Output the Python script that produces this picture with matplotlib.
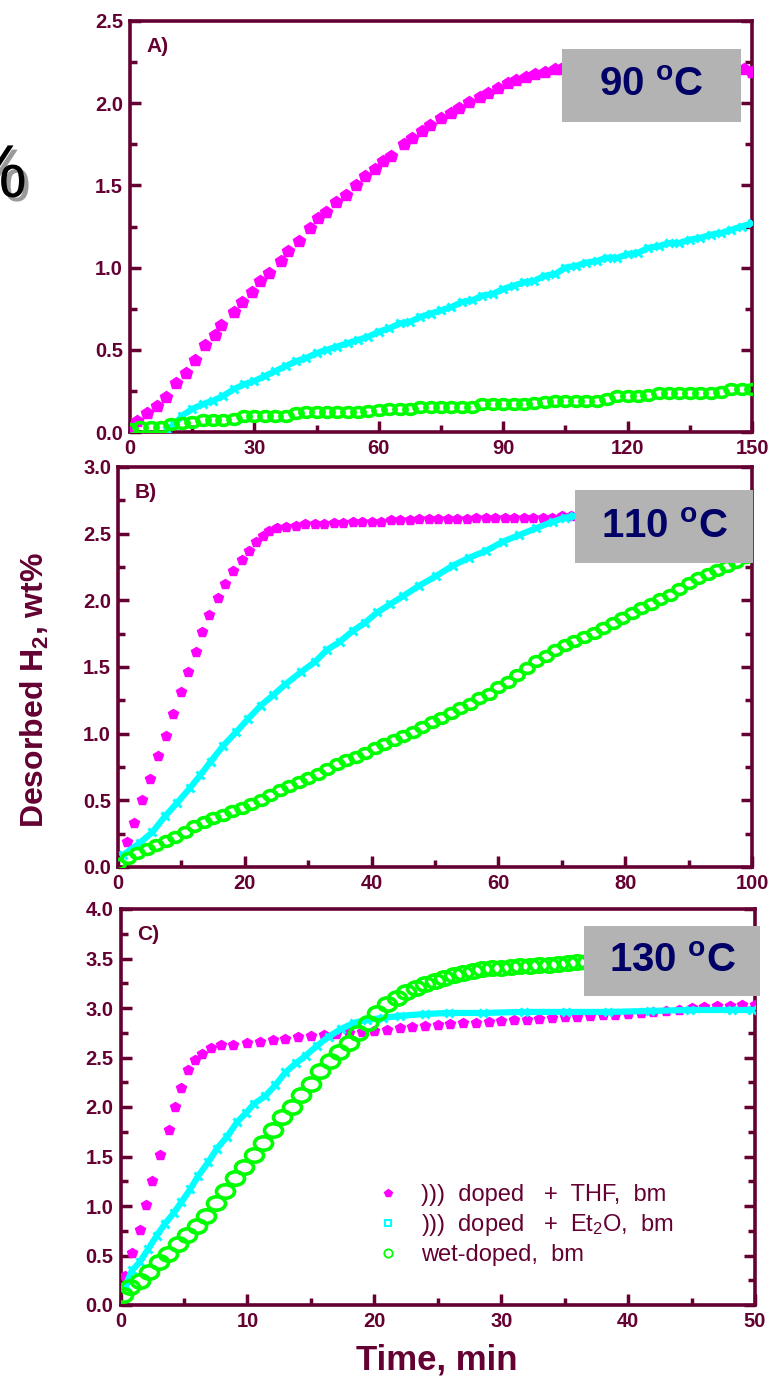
import matplotlib
matplotlib.use("Agg")
import matplotlib.pyplot as plt
import matplotlib.patheffects as pe
from matplotlib.path import Path
from matplotlib.transforms import Affine2D
from matplotlib.patches import Rectangle
from matplotlib.lines import Line2D

# ---- 90 oC ----
a_thf_t = [0.5, 1.8, 4.2, 6.5, 8.7, 11.2, 13.6, 15.6, 18.1, 20.4, 22, 25, 27, 29.4, 31.4, 33.6,
           36.4, 38.1, 40.8, 43.3, 45.3, 47.2, 49.7, 52, 54.6, 56.6, 59.1, 61, 63, 66, 68, 70.4,
           72.4, 74.9, 77.4, 79.3, 81.8, 84.3, 86.3, 88.7, 91.2, 93.2, 95.6, 97.6, 100.1, 102.6,
           104, 108, 112, 116, 120, 124, 128, 132, 136, 140, 144, 148, 150]
a_thf_v = [0.03, 0.066, 0.117, 0.16, 0.21, 0.30, 0.36, 0.44, 0.53, 0.59, 0.65, 0.73, 0.79, 0.85,
           0.92, 0.97, 1.04, 1.10, 1.16, 1.24, 1.30, 1.34, 1.40, 1.44, 1.50, 1.56, 1.60, 1.65,
           1.68, 1.75, 1.79, 1.83, 1.87, 1.91, 1.94, 1.97, 2.01, 2.04, 2.06, 2.09, 2.12, 2.14,
           2.16, 2.18, 2.19, 2.21, 2.21, 2.22, 2.23, 2.23, 2.24, 2.24, 2.24, 2.24, 2.24, 2.24,
           2.24, 2.21, 2.19]
a_et2o_t = [9, 10.5, 12.6, 15, 17.6, 20, 22.5, 25, 27.5, 30, 32.5, 35, 37.5, 40, 42.5, 45, 47.5,
            50, 52.5, 55, 57.5, 60, 62.5, 65, 67.5, 70, 72.5, 75, 77.5, 80, 82.5, 85, 87.5, 90,
            92.5, 95, 97.5, 100, 102.5, 105, 107.5, 110, 112.5, 115, 117.5, 120, 122.5, 125,
            127.5, 130, 132.5, 135, 137.5, 140, 142.5, 145, 147.5, 150]
a_et2o_v = [0.01, 0.04, 0.10, 0.14, 0.17, 0.19, 0.22, 0.26, 0.29, 0.31, 0.34, 0.37, 0.40, 0.43,
            0.45, 0.48, 0.50, 0.52, 0.54, 0.56, 0.58, 0.61, 0.63, 0.66, 0.67, 0.70, 0.72, 0.74,
            0.76, 0.79, 0.80, 0.83, 0.84, 0.87, 0.89, 0.91, 0.92, 0.95, 0.96, 1.00, 1.01, 1.03,
            1.04, 1.06, 1.06, 1.08, 1.09, 1.12, 1.13, 1.15, 1.15, 1.17, 1.18, 1.20, 1.21, 1.23,
            1.25, 1.27]
a_wet_t = [0, 2.5, 5, 7.5, 10, 12.5, 15, 17.5, 20, 22.5, 25, 27.5, 30, 32.5, 35, 37.5, 40, 42.5,
           45, 47.5, 50, 52.5, 55, 57.5, 60, 62.5, 65, 67.5, 70, 72.5, 75, 77.5, 80, 82.5, 85,
           87.5, 90, 92.5, 95, 97.5, 100, 102.5, 105, 107.5, 110, 112.5, 115, 117.5, 120, 122.5,
           125, 127.5, 130, 132.5, 135, 137.5, 140, 142.5, 145, 147.5, 150]
a_wet_v = [0.02, 0.03, 0.03, 0.03, 0.05, 0.055, 0.06, 0.07, 0.075, 0.075, 0.08, 0.095, 0.10,
           0.10, 0.10, 0.10, 0.115, 0.12, 0.12, 0.12, 0.12, 0.12, 0.12, 0.125, 0.135, 0.14, 0.14,
           0.14, 0.15, 0.155, 0.155, 0.155, 0.155, 0.155, 0.17, 0.172, 0.172, 0.172, 0.172,
           0.175, 0.18, 0.19, 0.19, 0.19, 0.19, 0.19, 0.20, 0.22, 0.22, 0.22, 0.225, 0.235,
           0.24, 0.24, 0.24, 0.24, 0.24, 0.245, 0.26, 0.26, 0.26]

# ---- 110 oC ----
b_thf_t = [1.4, 2.6, 3.75, 5.1, 6.25, 7.6, 8.7, 10, 11, 12.3, 13.3, 14.4, 15.8, 16.9, 18.2, 19.5,
           20.7, 21.8, 22.8, 23.8, 25.1, 26.5, 28, 29.5, 31, 32.5, 34, 35.5, 37, 38.5, 40, 41.5,
           43, 44.5, 46, 47.5, 49, 50.5, 52, 53.5, 55, 56.5, 58, 59.5, 61, 62.5, 64, 65.5, 67,
           68.5, 70, 71.5]
b_thf_v = [0.19, 0.33, 0.50, 0.66, 0.83, 0.98, 1.15, 1.31, 1.46, 1.61, 1.76, 1.89, 2.02, 2.12,
           2.22, 2.30, 2.37, 2.44, 2.48, 2.52, 2.54, 2.55, 2.56, 2.57, 2.57, 2.57, 2.58, 2.58,
           2.59, 2.59, 2.59, 2.59, 2.60, 2.60, 2.60, 2.61, 2.61, 2.61, 2.61, 2.61, 2.61, 2.62,
           2.62, 2.62, 2.62, 2.62, 2.62, 2.62, 2.62, 2.62, 2.63, 2.63]
b_et2o_t = [0.8, 3.4, 5.4, 7.4, 9.3, 11.3, 13, 14.6, 16.6, 18.6, 20.5, 22.5, 24.5, 26.4, 28.8,
            31.1, 33, 35, 37, 38.9, 40.9, 42.9, 44.9, 47.5, 50.1, 52.8, 55.4, 58, 60.7, 63.3,
            65.9, 68.6, 70.5, 72]
b_et2o_v = [0.09, 0.18, 0.26, 0.38, 0.48, 0.59, 0.69, 0.79, 0.91, 1.01, 1.11, 1.21, 1.29, 1.37,
            1.46, 1.54, 1.63, 1.69, 1.77, 1.83, 1.91, 1.97, 2.03, 2.11, 2.18, 2.26, 2.32, 2.37,
            2.44, 2.49, 2.54, 2.59, 2.62, 2.63]
b_wet_t = [0, 1.5, 3, 4.5, 6, 7.5, 9, 10.5, 12, 13.5, 15, 16.5, 18, 19.5, 21, 22.5, 24, 25.5, 27,
           28.5, 30, 31.5, 33, 34.5, 36, 37.5, 39, 40.5, 42, 43.5, 45, 46.5, 48, 49.5, 51, 52.5,
           54, 55.5, 57, 58.5, 60, 61.5, 63, 64.5, 66, 67.5, 69, 70.5, 72, 73.5, 75, 76.5, 78,
           79.5, 81, 82.5, 84, 85.5, 87, 88.5, 90, 91.5, 93, 94.5, 96, 97.5, 99]
b_wet_v = [0.02, 0.07, 0.105, 0.135, 0.165, 0.195, 0.225, 0.265, 0.305, 0.335, 0.365, 0.39,
           0.42, 0.445, 0.475, 0.505, 0.54, 0.575, 0.61, 0.64, 0.67, 0.70, 0.735, 0.77, 0.80,
           0.825, 0.855, 0.89, 0.925, 0.955, 0.98, 1.015, 1.05, 1.09, 1.12, 1.155, 1.19, 1.225,
           1.265, 1.30, 1.35, 1.39, 1.44, 1.49, 1.545, 1.585, 1.625, 1.665, 1.695, 1.725, 1.755,
           1.79, 1.83, 1.865, 1.905, 1.945, 1.975, 2.01, 2.04, 2.085, 2.13, 2.165, 2.195, 2.225,
           2.255, 2.29, 2.325]

# ---- 130 oC ----
c_thf_t = [0.33, 0.9, 1.5, 2.0, 2.5, 3.1, 3.8, 4.3, 4.75, 5.3, 5.9, 6.45, 7.1, 7.9, 8.9, 10, 11,
           12, 13, 14, 15, 16, 17, 18, 19, 20, 21, 22, 23, 24, 25, 26, 27, 28, 29, 30, 31, 32,
           33, 34, 35, 36, 37, 38, 39, 40, 41, 42, 43, 44, 45, 46, 47, 48, 49, 50]
c_thf_v = [0.29, 0.525, 0.76, 1.01, 1.25, 1.52, 1.77, 2.0, 2.19, 2.37, 2.47, 2.54, 2.60, 2.63,
           2.63, 2.65, 2.66, 2.68, 2.69, 2.71, 2.72, 2.73, 2.74, 2.75, 2.76, 2.77, 2.78, 2.80,
           2.81, 2.82, 2.83, 2.84, 2.85, 2.85, 2.86, 2.87, 2.88, 2.88, 2.89, 2.90, 2.91, 2.91,
           2.92, 2.93, 2.93, 2.94, 2.95, 2.96, 2.97, 2.98, 3.00, 3.01, 3.02, 3.02, 3.03, 3.03]
c_et2o_t = [0.4, 0.9, 1.5, 2.2, 2.85, 3.5, 4.2, 4.8, 5.5, 6.1, 6.9, 7.6, 8.4, 9.2, 9.9, 10.5,
            11.4, 12.2, 13, 13.8, 14.6, 15.5, 16.4, 17.4, 18.4, 19.4, 20.7, 22, 24, 25.9, 28.6,
            31.8, 35.1, 38.4, 41.7, 44.9, 48.2, 49.8]
c_et2o_v = [0.195, 0.35, 0.43, 0.57, 0.70, 0.82, 0.93, 1.04, 1.17, 1.30, 1.44, 1.58, 1.70, 1.85,
            1.94, 2.03, 2.11, 2.22, 2.35, 2.44, 2.52, 2.62, 2.71, 2.79, 2.85, 2.88, 2.90, 2.92,
            2.94, 2.95, 2.95, 2.96, 2.96, 2.96, 2.97, 2.98, 2.98, 2.98]
c_wet_t = [0.2, 0.75, 1.5, 2.25, 3.0, 3.75, 4.5, 5.25, 6.0, 6.75, 7.5, 8.25, 9.0, 9.75, 10.5,
           11.25, 12.0, 12.75, 13.5, 14.25, 15.0, 15.75, 16.5, 17.25, 18.0, 18.75, 19.5, 20.25,
           21.0, 21.75, 22.5, 23.25, 24.0, 24.75, 25.5, 26.25, 27.0, 27.75, 28.5, 29.25, 30.0,
           30.75, 31.5, 32.25, 33.0, 33.75, 34.5, 35.25, 36.0, 36.75]
c_wet_v = [0.10, 0.18, 0.24, 0.33, 0.43, 0.52, 0.62, 0.71, 0.80, 0.90, 1.03, 1.15, 1.28, 1.39,
           1.52, 1.64, 1.77, 1.90, 2.00, 2.12, 2.23, 2.36, 2.46, 2.56, 2.65, 2.75, 2.85, 2.95,
           3.04, 3.10, 3.16, 3.20, 3.24, 3.27, 3.30, 3.33, 3.35, 3.37, 3.39, 3.40, 3.40, 3.41,
           3.42, 3.42, 3.43, 3.43, 3.44, 3.45, 3.46, 3.46]

labels = [")))  doped   +  THF,  bm", ")))  doped   +  Et$_2$O,  bm", "wet-doped,  bm"]
temps = ["90", "110", "130"]

MAROON = "#640032"
NAVY = "#000066"
MAG, CYAN, GREEN = "#FF00FF", "#00FFFF", "#00FF00"

plt.rcParams["font.family"] = ["Liberation Sans", "DejaVu Sans"]
plt.rcParams["mathtext.fontset"] = "custom"
plt.rcParams["mathtext.rm"] = "Liberation Sans"
plt.rcParams["mathtext.bf"] = "Liberation Sans:bold"
plt.rcParams["mathtext.it"] = "Liberation Sans:italic"

W, H = 771, 1388
fig = plt.figure(figsize=(W / 100, H / 100), dpi=100)


def box(l, t, r, b):
    return [l / W, 1 - b / H, (r - l) / W, (b - t) / H]


# flattened circle used for the wet-doped points
oval = Path.unit_circle().transformed(Affine2D().scale(1.35, 1.0))

panels = [
    dict(rect=box(130, 21, 752, 432), xlim=150, ylim=2.5, xmaj=30, xmin=15, tag="A)",
         thf=(a_thf_t, a_thf_v), et=(a_et2o_t, a_et2o_v), wet=(a_wet_t, a_wet_v),
         ms_thf=9, ms_wet=9.5, lw_et=4.5, lbox=(562, 49, 741, 122)),
    dict(rect=box(118, 467, 752, 867), xlim=100, ylim=3.0, xmaj=20, xmin=10, tag="B)",
         thf=(b_thf_t, b_thf_v), et=(b_et2o_t, b_et2o_v), wet=(b_wet_t, b_wet_v),
         ms_thf=7.5, ms_wet=9.5, lw_et=4.5, lbox=(575, 490, 753, 563)),
    dict(rect=box(120.5, 909, 755, 1305), xlim=50, ylim=4.0, xmaj=10, xmin=5, tag="C)",
         thf=(c_thf_t, c_thf_v), et=(c_et2o_t, c_et2o_v), wet=(c_wet_t, c_wet_v),
         ms_thf=7, ms_wet=13, lw_et=4.5, lbox=(584, 926, 760, 996)),
]

axes = []
for p, temp in zip(panels, temps):
    ax = fig.add_axes(p["rect"])
    axes.append(ax)
    ax.plot(*p["thf"], ls="none", marker="p", ms=p["ms_thf"], color=MAG, mec=MAG, zorder=3)
    ax.plot(*p["et"], ls="-", lw=p["lw_et"], color=CYAN, marker="x", ms=6, mew=2.2, zorder=3)
    ax.plot(*p["wet"], ls="none", marker=oval, ms=p["ms_wet"], mfc="none", mec=GREEN,
            mew=2.6, zorder=3)

    ax.set_xlim(0, p["xlim"])
    ax.set_ylim(0, p["ylim"])
    ax.xaxis.set_major_locator(plt.MultipleLocator(p["xmaj"]))
    ax.xaxis.set_minor_locator(plt.MultipleLocator(p["xmin"]))
    ax.yaxis.set_major_locator(plt.MultipleLocator(0.5))
    ax.yaxis.set_minor_locator(plt.MultipleLocator(0.25))
    ax.yaxis.set_major_formatter(plt.FormatStrFormatter("%.1f"))
    ax.tick_params(which="both", direction="in", color=MAROON, labelcolor=MAROON,
                   left=True, right=True, top=False, bottom=True, width=2.5)
    ax.tick_params(which="major", length=8, labelsize=14.5, pad=5)
    ax.tick_params(which="minor", length=5)
    for lab in ax.get_xticklabels() + ax.get_yticklabels():
        lab.set_fontweight("bold")
    for s in ax.spines.values():
        s.set_color(MAROON)
        s.set_linewidth(2.6)

    ax.text(0.026, 0.96, p["tag"], transform=ax.transAxes, fontsize=15, fontweight="bold",
            color=MAROON, va="top", ha="left")

    # temperature box
    l, t, r, b = p["lbox"]
    fig.patches.append(Rectangle((l / W, 1 - b / H), (r - l) / W, (b - t) / H,
                                 transform=fig.transFigure, facecolor="#B3B3B3",
                                 edgecolor="none", zorder=10))
    fig.text((l + r) / 2 / W, 1 - (t + b) / 2 / H, temp + r" $\mathbf{^{o}}$C",
             fontsize=29, fontweight="bold", color=NAVY, ha="center", va="center", zorder=11)

# legend in the bottom panel
handles = [
    Line2D([], [], ls="none", marker="p", ms=6, color=MAG),
    Line2D([], [], ls="none", marker="s", ms=4, mfc="white", mec=CYAN, mew=1.5),
    Line2D([], [], ls="none", marker="o", ms=6, mfc="none", mec=GREEN, mew=1.3),
]
axes[2].legend(handles, labels, loc="lower left", bbox_to_anchor=(0.365, 0.045),
               frameon=False, labelcolor=MAROON, handlelength=1.2,
               handletextpad=0.8, labelspacing=0.25, prop={"size": 17})

fig.text(35 / W, 1 - 690 / H, "Desorbed H$_\\mathbf{2}$, wt%", rotation=90, fontsize=23,
         fontweight="bold", color=MAROON, ha="center", va="center")
fig.text(437 / W, 1 - 1360 / H, "Time, min", fontsize=25, fontweight="bold", color=MAROON,
         ha="center", va="center")

# percent sign left over at the edge of the sheet
fig.text(27 / W, 1 - 197 / H, "%", fontsize=54, color="black", ha="right", va="baseline",
         path_effects=[pe.SimplePatchShadow(offset=(3, -3), shadow_rgbFace="#9A9A9A", alpha=1),
                       pe.Normal()])

fig.savefig("out.png", dpi=100)
